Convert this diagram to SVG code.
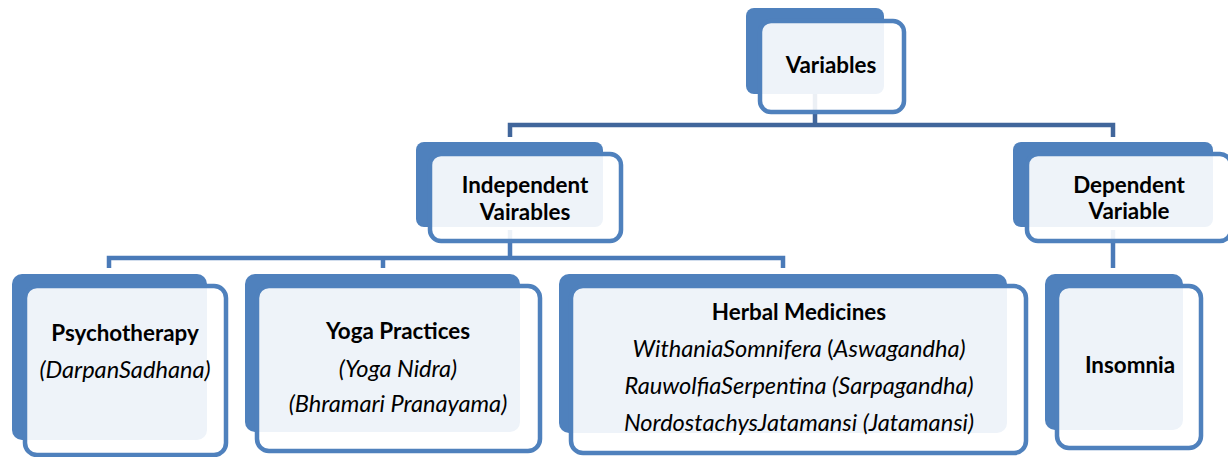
<svg xmlns="http://www.w3.org/2000/svg" width="1228" height="457" viewBox="0 0 1228 457">
<style>
.back{fill:#4f81bd}
.front{fill:#ffffff;fill-opacity:0.9;stroke:#4f81bd;stroke-width:4.5}
.c1{fill:none;stroke:#41669b;stroke-width:4.5}
.c2{fill:none;stroke:#4a7ab8;stroke-width:4.5}
text{font-family:Lato,"Liberation Sans",sans-serif;fill:#000;text-anchor:middle}
.b{font-weight:bold;font-size:22.4px}
.i{font-style:italic;font-size:23.6px}
</style>
<rect width="1228" height="457" fill="#ffffff"/>
<g id="connectors">
<path class="c1" d="M815,90 V125 M510,137 V125 H1113 V137"/>
<path class="c2" d="M510,230 V258 M109,268 V258 H783 V268 M383,258 V268"/>
<path class="c2" d="M1113,230 V268"/>
</g>
<g id="variables">
<rect class="back" x="746" y="8" width="138" height="86" rx="8"/>
<rect class="front" x="760" y="21" width="144" height="91" rx="11"/>
<text class="b" x="831" y="73">Variables</text>
</g>
<g id="independent">
<rect class="back" x="416" y="142" width="187" height="85" rx="8"/>
<rect class="front" x="430" y="154" width="191" height="87" rx="11"/>
<text class="b" x="525" y="193">Independent</text>
<text class="b" x="525" y="220">Vairables</text>
</g>
<g id="dependent">
<rect class="back" x="1013" y="142" width="200" height="85" rx="8"/>
<rect class="front" x="1027" y="154" width="204" height="87" rx="11"/>
<text class="b" x="1129" y="193">Dependent</text>
<text class="b" x="1129" y="219">Variable</text>
</g>
<g id="psychotherapy">
<rect class="back" x="12" y="274" width="195" height="166" rx="10"/>
<rect class="front" x="25" y="286" width="201" height="169" rx="12"/>
<text class="b" x="125" y="341">Psychotherapy</text>
<text class="i" x="125" y="378">(DarpanSadhana)</text>
</g>
<g id="yoga">
<rect class="back" x="245" y="274" width="275" height="158" rx="10"/>
<rect class="front" x="257" y="286" width="283" height="165" rx="12"/>
<text class="b" x="398" y="339">Yoga Practices</text>
<text class="i" x="398" y="377">(Yoga Nidra)</text>
<text class="i" x="398" y="412">(Bhramari Pranayama)</text>
</g>
<g id="herbal">
<rect class="back" x="559" y="274" width="448" height="159" rx="10"/>
<rect class="front" x="571" y="286" width="455" height="167" rx="12"/>
<text class="b" x="799" y="320">Herbal Medicines</text>
<text class="i" x="799" y="357">WithaniaSomnifera <tspan font-style="normal">(</tspan>Aswagandha)</text>
<text class="i" x="799" y="394">RauwolfiaSerpentina (Sarpagandha)</text>
<text class="i" x="799" y="431">NordostachysJatamansi (Jatamansi)</text>
</g>
<g id="insomnia">
<rect class="back" x="1045" y="274" width="138" height="156" rx="10"/>
<rect class="front" x="1057" y="286" width="144" height="162" rx="12"/>
<text class="b" x="1130" y="373">Insomnia</text>
</g>
</svg>
